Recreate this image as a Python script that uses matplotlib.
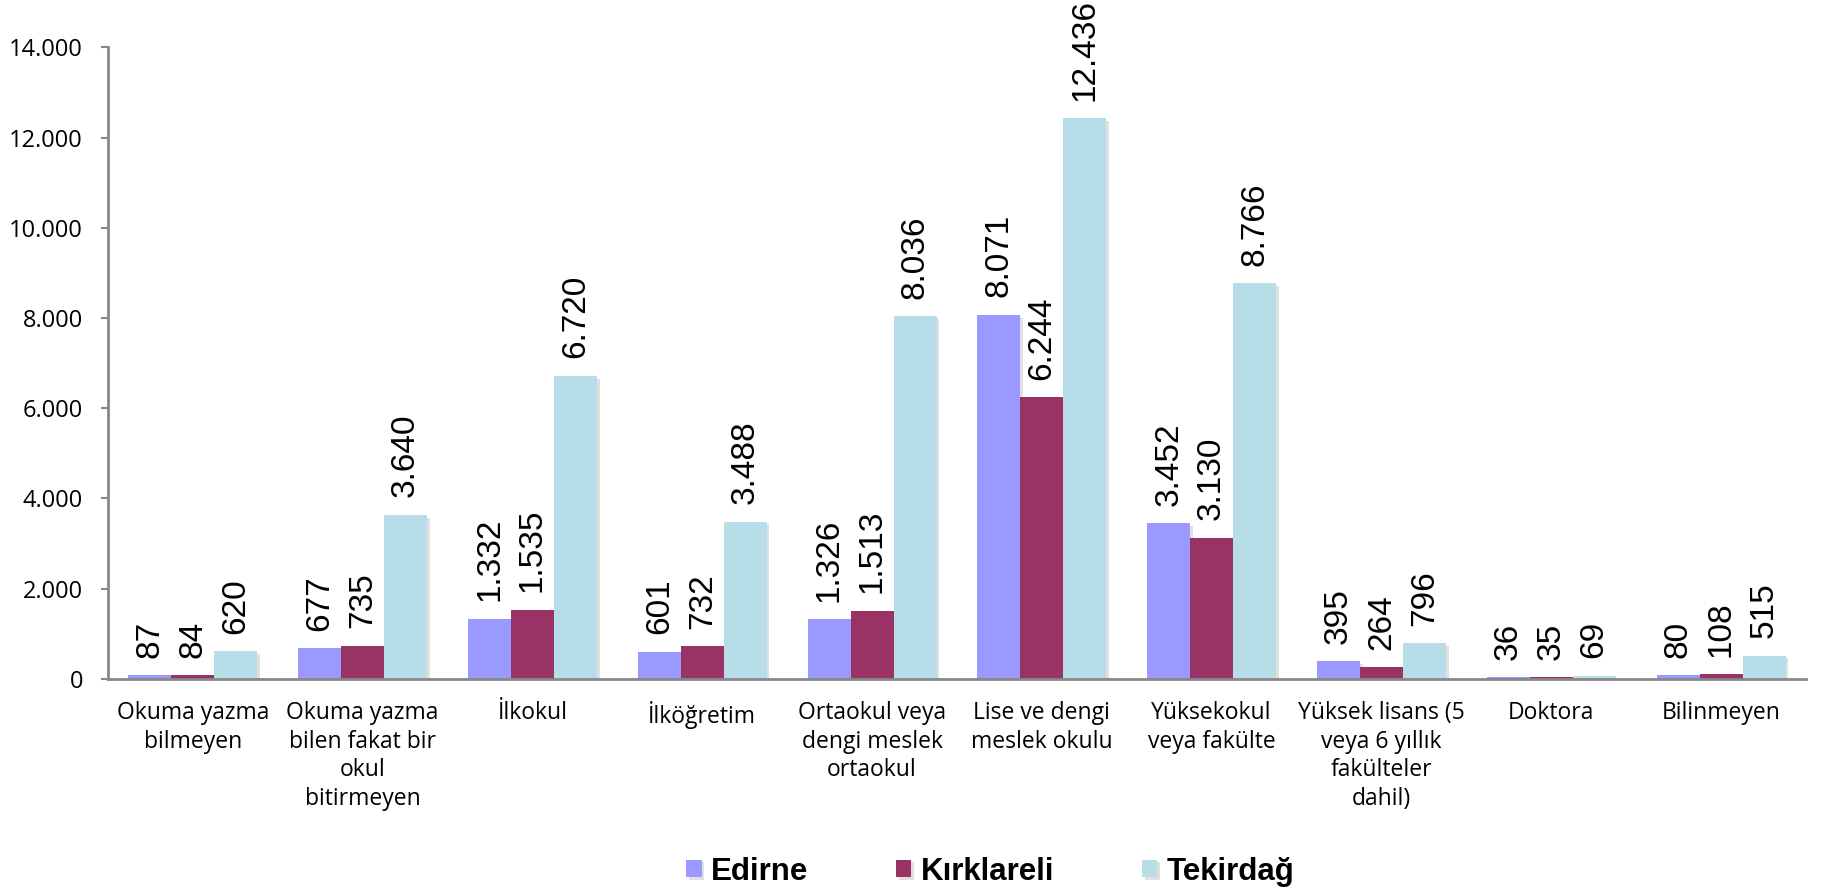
import numpy as np
import matplotlib.pyplot as plt
from matplotlib import patheffects as pe
from matplotlib.ticker import FuncFormatter

categories = ['Okuma yazma\nbilmeyen', 'Okuma yazma\nbilen fakat bir\nokul\nbitirmeyen', 'İlkokul',
              'İlköğretim', 'Ortaokul veya\ndengi meslek\nortaokul', 'Lise ve dengi\nmeslek okulu',
              'Yüksekokul\nveya fakülte', 'Yüksek lisans (5\nveya 6 yıllık\nfakülteler\ndahil)',
              'Doktora', 'Bilinmeyen']
series = ['Edirne', 'Kırklareli', 'Tekirdağ']
edirne = [87, 677, 1332, 601, 1326, 8071, 3452, 395, 36, 80]
kirklareli = [84, 735, 1535, 732, 1513, 6244, 3130, 264, 35, 108]
tekirdag = [620, 3640, 6720, 3488, 8036, 12436, 8766, 796, 69, 515]
colors = ['#9999FF', '#993366', '#B7DEE8']


def tr(v):
    return f'{int(v):,}'.replace(',', '.')


fig = plt.figure(figsize=(18.27, 8.93), dpi=100)
ax = fig.add_axes([0.0591, 0.2397, 0.9294, 0.7073])

x = np.arange(len(categories))
w = 0.253
shadow = [pe.SimplePatchShadow(offset=(2, -2), shadow_rgbFace='#999999', alpha=0.3), pe.Normal()]
for i, (name, vals) in enumerate(zip(series, [edirne, kirklareli, tekirdag])):
    pos = x + (i - 1) * w
    bars = ax.bar(pos, vals, width=w, color=colors[i], label=name, zorder=2)
    for b in bars:
        b.set_path_effects(shadow)
    for p, v in zip(pos, vals):
        ax.annotate(tr(v), (p, v), xytext=(0, 12.5), textcoords='offset points',
                    rotation=90, ha='center', va='bottom', fontsize=24,
                    family='Liberation Sans', annotation_clip=False)

ax.set_xlim(-0.5, len(categories) - 0.5)
ax.set_ylim(0, 14000)
ax.set_yticks(np.arange(0, 14001, 2000))
ax.yaxis.set_major_formatter(FuncFormatter(lambda v, _: tr(v)))
ax.set_xticks(x)
ax.set_xticklabels(categories, family='Open Sans', fontsize=16.5, linespacing=1.25)
for t in ax.get_yticklabels():
    t.set_family('Open Sans')
    t.set_fontsize(17)
ax.tick_params(axis='x', length=0, pad=16)
ax.tick_params(axis='y', length=5, width=1.5, color='#888888', pad=13)
for s in ['top', 'right']:
    ax.spines[s].set_visible(False)
for s in ['left', 'bottom']:
    ax.spines[s].set_color('#888888')
    ax.spines[s].set_linewidth(2)

leg = fig.legend(loc='center', bbox_to_anchor=(0.542, 0.024), ncol=3, frameon=False,
                 prop={'family': 'Liberation Sans', 'weight': 'bold', 'size': 22.5},
                 handlelength=0.5, handleheight=0.5, handletextpad=0.3, columnspacing=2.8)

fig.savefig('out.png', dpi=100)
